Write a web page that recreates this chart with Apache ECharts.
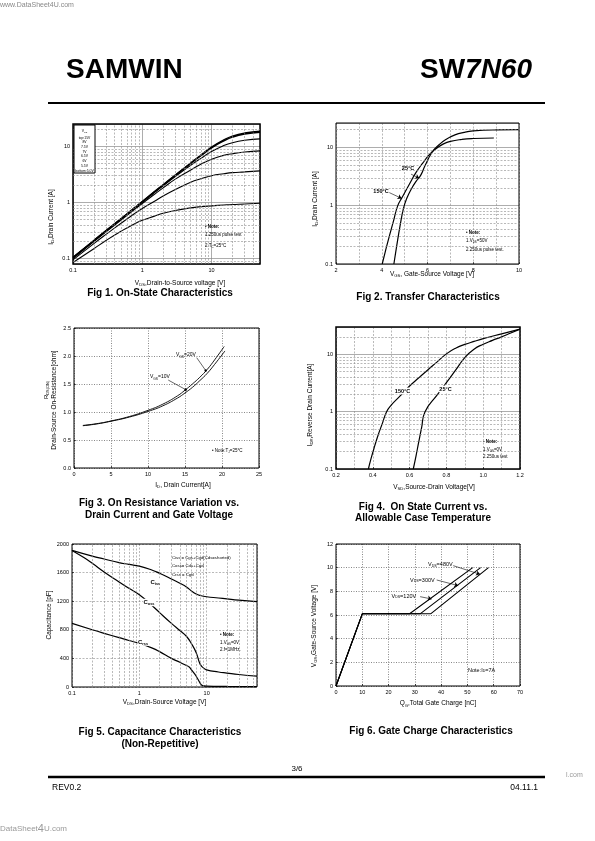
<!DOCTYPE html>
<html><head><meta charset="utf-8">
<script src="https://cdn.jsdelivr.net/npm/echarts@6/dist/echarts.min.js"></script>
<style>html,body{margin:0;padding:0;background:#fff}#c{width:595px;height:841px}</style>
</head><body><div id="c"></div>
<script>
// ---------------- DATA ----------------
// Fig 1: On-state characteristics, [VDS (V), ID (A)] per VGS curve
const fig1_15V = [[0.1,0.105],[0.2,0.21],[0.3,0.315],[0.5,0.52],[0.7,0.73],[1,1.04],[1.5,1.56],[2,2.07],[3,3.08],[5,5.05],[7,6.95],[10,9.7],[15,13.0],[20,15.2],[30,17.2],[50,18.5]];
const fig1_8V  = [[0.1,0.104],[0.2,0.208],[0.3,0.312],[0.5,0.515],[0.7,0.72],[1,1.03],[1.5,1.54],[2,2.04],[3,3.03],[5,4.95],[7,6.8],[10,9.4],[15,12.5],[20,14.6],[30,16.6],[50,17.9]];
const fig1_7V5 = [[0.1,0.103],[0.2,0.206],[0.3,0.31],[0.5,0.51],[0.7,0.71],[1,1.01],[1.5,1.5],[2,1.98],[3,2.9],[5,4.6],[7,6.1],[10,8.1],[15,10.3],[20,11.6],[30,12.8],[50,13.6]];
const fig1_7V  = [[0.1,0.1],[0.2,0.2],[0.3,0.3],[0.5,0.49],[0.7,0.68],[1,0.96],[1.5,1.4],[2,1.82],[3,2.6],[5,3.8],[7,4.8],[10,5.9],[15,6.9],[20,7.4],[30,7.9],[50,8.3]];
const fig1_6V5 = [[0.1,0.095],[0.2,0.185],[0.3,0.27],[0.5,0.43],[0.7,0.58],[1,0.78],[1.5,1.05],[2,1.3],[3,1.7],[5,2.3],[7,2.65],[10,3.0],[15,3.25],[20,3.4],[30,3.5],[50,3.65]];
const fig1_6V  = [[0.1,0.085],[0.2,0.15],[0.3,0.21],[0.5,0.31],[0.7,0.39],[1,0.48],[1.5,0.57],[2,0.64],[3,0.72],[5,0.8],[7,0.84],[10,0.87],[15,0.9],[20,0.92],[30,0.94],[50,0.97]];
const fig1Legend = ['V{GS}','top:15V','8V','7.5V','7V','6.5V','6V','5.5V','bottom:5.0V'];

// Fig 2: Transfer characteristics, [VGS (V), ID (A)]
const fig2_150C = [[4.02,0.1],[4.15,0.16],[4.3,0.27],[4.5,0.52],[4.7,1.0],[4.9,1.4],[5.2,2.3],[5.5,3.7],[5.8,5.4],[6.1,7.6],[6.4,9.6],[6.7,11.4],[7.0,12.6],[7.5,13.6],[8.0,14.1],[8.9,14.4]];
const fig2_25C  = [[4.53,0.1],[4.65,0.2],[4.8,0.45],[4.95,0.9],[5.1,1.35],[5.3,1.95],[5.5,2.6],[5.7,3.3],[5.9,4.9],[6.2,8.2],[6.5,11],[6.8,13.6],[7.2,16.3],[7.6,18],[8.0,19],[9,19.8],[10,20]];

// Fig 3: On-resistance vs drain current, [ID (A), RDS(on) (ohm)]
const fig3_10V = [[1.2,0.76],[3,0.79],[5,0.84],[7.5,0.92],[10,1.03],[12,1.14],[14,1.29],[15,1.39],[16,1.5],[17,1.62],[18,1.76],[19,1.93],[20.3,2.17]];
const fig3_20V = [[1.2,0.755],[3,0.785],[5,0.835],[7.5,0.91],[10,1.01],[12,1.11],[14,1.25],[15,1.34],[16,1.44],[17,1.56],[18,1.69],[19,1.85],[20.4,2.09]];

// Fig 4: Source-drain diode, [VSD (V), IDR (A)]
const fig4_150C = [[0.376,0.1],[0.39,0.15],[0.41,0.25],[0.43,0.4],[0.45,0.6],[0.475,1.0],[0.5,1.3],[0.55,1.9],[0.6,2.8],[0.65,3.9],[0.7,5.4],[0.75,7.4],[0.8,10.2],[0.85,12.8],[0.9,14.9],[0.95,16.8],[1.0,18.8],[1.1,22.8],[1.2,27.5]];
const fig4_25C  = [[0.62,0.1],[0.635,0.17],[0.65,0.3],[0.665,0.52],[0.684,1.0],[0.75,1.96],[0.8,3.2],[0.85,5.3],[0.9,8.8],[0.95,12.3],[1.0,15],[1.05,17.5],[1.1,20.2],[1.15,23.6],[1.2,27.5]];

// Fig 5: Capacitance, [VDS (V), C (pF)]
const fig5_Ciss = [[0.1,1910],[0.2,1830],[0.3,1790],[0.5,1740],[0.7,1715],[1,1690],[1.5,1640],[2,1590],[3,1510],[4,1450],[5,1400],[6,1340],[7,1300],[8,1280],[10,1262],[15,1245],[20,1232],[30,1215],[56,1195]];
const fig5_Coss = [[0.1,1910],[0.15,1810],[0.2,1730],[0.3,1610],[0.5,1470],[0.7,1380],[1,1290],[1.5,1150],[2,1040],[3,890],[4,790],[5,710],[6,600],[7,480],[8,320],[9,265],[10,240],[15,210],[20,195],[30,175],[56,152]];
const fig5_Crss = [[0.1,890],[0.2,800],[0.3,750],[0.5,690],[0.7,650],[1,610],[1.5,550],[2,495],[3,400],[4,345],[5,300],[5.5,280],[6,235],[7,150],[8,55],[8.7,20],[10,12],[20,8],[56,5]];

// Fig 6: Gate charge, [QG (nC), VGS (V)]
const fig6_120V = [[0,0],[10,6.1],[28,6.1],[52,10]];
const fig6_300V = [[0,0],[10,6.1],[32,6.1],[55,10]];
const fig6_480V = [[0,0],[10,6.1],[36,6.1],[58,10]];

// ---------------- HELPERS ----------------
const FONT = '"Liberation Sans", Arial, Helvetica, sans-serif';
function logFmt(v){const l=Math.log10(v);const r=Math.round(l);if(Math.abs(l-r)>1e-4)return '';return r<0?Math.pow(10,r).toFixed(-r):String(Math.pow(10,r));}
function logMinors(lo,hi){const out=[];for(let k=-2;k<=3;k++){for(let m=2;m<=9;m++){const v=+(m*Math.pow(10,k)).toPrecision(3);if(v>lo*1.001&&v<hi*0.999)out.push(v);}}return out;}
function richStr(str){return str.split(/(\{[^}]*\})/).filter(p=>p.length).map(p=>p[0]==='{'?'{s|'+p.slice(1,-1)+'}':'{n|'+p+'}').join('');}
function T(x,y,str,o){o=o||{};const size=o.size||5;const w=o.bold?'bold':'normal';const col=o.color||'#000';
  const st={text:richStr(str),align:o.align||'left',verticalAlign:'middle',fill:col,
    rich:{n:{fontSize:size,fontFamily:FONT,fontWeight:w,fill:col,lineHeight:size*1.25,verticalAlign:'middle'},
          s:{fontSize:size*0.65,fontFamily:FONT,fontWeight:w,fill:col,lineHeight:size*0.65,verticalAlign:'bottom'}}};
  if(o.bg){st.backgroundColor=o.bg;st.padding=[0,0.5];}
  return {type:'text',x:x,y:y,rotation:o.rot||0,z:100,silent:true,style:st};}
const lbl={fontSize:5.5,color:'#000',fontFamily:FONT,margin:3};
const solidGrid={show:true,lineStyle:{color:'#8a8a8a',width:0.7,type:'solid'}};
const dashGrid={show:true,lineStyle:{color:'#8a8a8a',width:0.6,type:[2,1.5]}};
const dotGrid={show:true,lineStyle:{color:'#555',width:0.7,type:[1,1.5]}};
const tickIn={show:true,inside:true,length:2,lineStyle:{color:'#000',width:0.6}};

function logAxis(gi,min,max,split){return {type:'log',logBase:10,gridIndex:gi,min:min,max:max,axisLine:{show:false},axisTick:{show:false},axisLabel:Object.assign({formatter:logFmt},lbl),splitLine:split||solidGrid};}
function linAxis(gi,min,max,interval,fmt,split,minor){const a={type:'value',gridIndex:gi,min:min,max:max,interval:interval,axisLine:{show:false},axisTick:tickIn,axisLabel:Object.assign({formatter:fmt},lbl),splitLine:split};
  if(minor){a.minorTick={show:false,splitNumber:minor};a.minorSplitLine=dashGrid;}return a;}
function minorSeries(gi,xs,ys){return {type:'line',xAxisIndex:gi,yAxisIndex:gi,data:[],silent:true,z:1,
  markLine:{silent:true,symbol:['none','none'],animation:false,label:{show:false},lineStyle:{color:'#8a8a8a',width:0.6,type:[2,1.5]},
  data:xs.map(v=>({xAxis:v})).concat(ys.map(v=>({yAxis:v})))}};}
function curve(gi,data,w,smooth){return {type:'line',xAxisIndex:gi,yAxisIndex:gi,data:data,showSymbol:false,smooth:smooth===false?false:0.5,lineStyle:{color:'#000',width:w||1.1},silent:true,z:2};}
function arrows(gi,list,sym,size){return {type:'line',xAxisIndex:gi,yAxisIndex:gi,data:[],silent:true,z:4,
  markLine:{silent:true,symbol:['none',sym||'arrow'],symbolSize:size||4,animation:false,label:{show:false},lineStyle:{color:'#000',width:0.6,type:'solid'},
  data:list.map(a=>[{coord:a[0]},{coord:a[1]}])}};}

// ---------------- LAYOUT ----------------
const gridBox=[
  {left:73,top:124,width:187,height:140,borderWidth:1.5},
  {left:336,top:123,width:183,height:141,borderWidth:1},
  {left:74,top:328,width:185,height:140,borderWidth:1},
  {left:336,top:327,width:184,height:142,borderWidth:1.5},
  {left:72,top:544,width:185,height:143,borderWidth:1},
  {left:336,top:544,width:184,height:142,borderWidth:1}
].map(g=>Object.assign({show:true,z:3,borderColor:'#000',backgroundColor:'transparent'},g));

const xAxes=[
  logAxis(0,0.1,50),
  linAxis(1,2,10,2,v=>String(v),dashGrid,2),
  linAxis(2,0,25,5,v=>String(v),dotGrid),
  linAxis(3,0.2,1.2,0.2,v=>v.toFixed(1),dashGrid,2),
  logAxis(4,0.1,56,dashGrid),
  linAxis(5,0,70,10,v=>String(v),dotGrid)
];
const yAxes=[
  logAxis(0,0.08,25),
  logAxis(1,0.1,26),
  linAxis(2,0,2.5,0.5,v=>v.toFixed(1),dotGrid),
  logAxis(3,0.1,30),
  linAxis(4,0,2000,400,v=>String(v),dashGrid),
  linAxis(5,0,12,2,v=>String(v),dotGrid)
];

const series=[
  minorSeries(0,logMinors(0.1,50),logMinors(0.08,25)),
  curve(0,fig1_15V,1.5),curve(0,fig1_8V,1.5),curve(0,fig1_7V5,1.1),curve(0,fig1_7V,1.1),curve(0,fig1_6V5,1.1),curve(0,fig1_6V,1.1),
  minorSeries(1,[],logMinors(0.1,26)),
  curve(1,fig2_150C,1.2),curve(1,fig2_25C,1.2),
  arrows(1,[[[5.28,3.46],[5.64,2.95]],[[4.33,1.67],[4.87,1.33]]]),
  curve(2,fig3_10V,0.9),curve(2,fig3_20V,0.9),
  arrows(2,[[[16.58,1.97],[17.8,1.74]],[[12.74,1.57],[15.09,1.40]]],'circle',2.5),
  minorSeries(3,[],logMinors(0.1,30)),
  curve(3,fig4_150C,1.2),curve(3,fig4_25C,1.2),
  minorSeries(4,logMinors(0.1,56),[]),
  curve(4,fig5_Ciss,1.2),curve(4,fig5_Coss,1.2),curve(4,fig5_Crss,1.2),
  curve(5,fig6_120V,1.1,false),curve(5,fig6_300V,1.1,false),curve(5,fig6_480V,1.1,false),
  arrows(5,[[[44.6,10.17],[54.8,9.44]],[[38.3,8.96],[46.5,8.48]],[[32,7.55],[36.4,7.35]]])
];

// ---------------- TEXT / PAGE DECORATION ----------------
const G=[];
// header
G.push({type:'text',x:0,y:5,z:100,style:{text:'www.DataSheet4U.com',fontSize:7,fontFamily:FONT,fill:'#888',verticalAlign:'middle'}});
G.push({type:'text',x:66,y:70,z:100,style:{text:'SAMWIN',fontSize:28,fontWeight:'bold',fontFamily:FONT,fill:'#000',verticalAlign:'middle'}});
G.push({type:'text',x:532,y:70,z:100,style:{text:'{a|SW}{b|7N60}',align:'right',verticalAlign:'middle',rich:{a:{fontSize:28,fontWeight:'bold',fontFamily:FONT,fill:'#000'},b:{fontSize:28,fontWeight:'bold',fontStyle:'italic',fontFamily:FONT,fill:'#000'}}}});
G.push({type:'line',z:100,shape:{x1:48,y1:103,x2:545,y2:103},style:{stroke:'#000',lineWidth:2}});
// footer
G.push({type:'line',z:100,shape:{x1:48,y1:777,x2:545,y2:777},style:{stroke:'#000',lineWidth:2.5}});
G.push(T(297,769,'3/6',{size:8,align:'center'}));
G.push(T(52,788,'REV0.2',{size:8.5}));
G.push(T(538,788,'04.11.1',{size:8.5,align:'right'}));
G.push(T(566,775,'l.com',{size:7,color:'#999'}));
G.push({type:'text',x:0,y:829,z:100,style:{text:'{a|DataSheet}{b|4}{a|U.com}',verticalAlign:'middle',rich:{a:{fontSize:8,fontFamily:FONT,fill:'#999'},b:{fontSize:11,fontFamily:FONT,fill:'#999'}}}});

// Fig 1
G.push({type:'rect',z:90,shape:{x:74,y:125,width:21,height:48},style:{fill:'#fff',stroke:'#000',lineWidth:1}});
fig1Legend.forEach((t,i)=>G.push(T(84.5,131+i*4.7+(i>0?2:0),t,{size:3.4,align:'center'})));
G.push(T(205,227,'• Note:',{size:4.5,bold:true}));
G.push(T(205,235,'1.250us pulse test',{size:4.5}));
G.push(T(205,246,'2.T{C}=25°C',{size:4.5}));
G.push(T(180,283,'V{DS},Drain-to-Source voltage [V]',{size:6.5,align:'center'}));
G.push(T(51,217,'I{D},Drain Current [A]',{size:6.5,align:'center',rot:Math.PI/2}));
G.push(T(160,293,'Fig 1. On-State Characteristics',{size:10,bold:true,align:'center'}));
// Fig 2
G.push(T(408,168,'25°C',{size:5.5,bold:true,align:'center'}));
G.push(T(381,191,'150°C',{size:5.5,bold:true,align:'center'}));
G.push(T(466,233,'• Note:',{size:4.5,bold:true}));
G.push(T(466,241,'1.V{DS}=50V',{size:4.5}));
G.push(T(466,250,'2.250us pulse test.',{size:4.5}));
G.push(T(432,274,'V{GS}, Gate-Source Voltage [V]',{size:6.5,align:'center'}));
G.push(T(315,199,'I{D},Drain Current [A]',{size:6.5,align:'center',rot:Math.PI/2}));
G.push(T(428,297,'Fig 2. Transfer Characteristics',{size:10,bold:true,align:'center'}));
// Fig 3
G.push(T(176,355,'V{GS}=20V',{size:5}));
G.push(T(150,377,'V{GS}=10V',{size:5}));
G.push(T(212,451,'• Note:T{J}=25°C',{size:4.5}));
G.push(T(183,485,'I{D}, Drain Current[A]',{size:6.5,align:'center'}));
G.push(T(46.5,390,'R{DS(ON)}',{size:6,align:'center',rot:Math.PI/2}));
G.push(T(54,400,'Drain-Source On-Resistance[ohm]',{size:6.5,align:'center',rot:Math.PI/2}));
G.push(T(159,503,'Fig 3. On Resistance Variation vs.',{size:10,bold:true,align:'center'}));
G.push(T(159,515,'Drain Current and Gate Voltage',{size:10,bold:true,align:'center'}));
// Fig 4
G.push(T(402.5,391,'150°C',{size:5.5,bold:true,align:'center',bg:'#fff'}));
G.push(T(445.5,389,'25°C',{size:5.5,bold:true,align:'center',bg:'#fff'}));
G.push(T(483,442,'- Note:',{size:4.5,bold:true}));
G.push(T(483,450,'1.V{GS}=0V',{size:4.5}));
G.push(T(483,457,'2.250us test',{size:4.5}));
G.push(T(434,487,'V{SD},Source-Drain Voltage[V]',{size:6.5,align:'center'}));
G.push(T(310,405,'I{DR},Reverse Drain Current[A]',{size:6.5,align:'center',rot:Math.PI/2}));
G.push(T(423,507,'Fig 4.  On State Current vs.',{size:10,bold:true,align:'center'}));
G.push(T(423,518,'Allowable Case Temperature',{size:10,bold:true,align:'center'}));
// Fig 5
G.push(T(172,558,'Ciss = Cgs+Cgd(Cds=shorted)',{size:4.3}));
G.push(T(172,566,'Coss= Cds+Cgd',{size:4.3}));
G.push(T(172,574.5,'Crss = Cgd',{size:4.3}));
G.push(T(150,582,'C{iss}',{size:6,bold:true,bg:'#fff'}));
G.push(T(143,602.5,'C{oss}',{size:6,bold:true,bg:'#fff'}));
G.push(T(137.5,642,'C{rss}',{size:6,bold:true,bg:'#fff'}));
G.push(T(220,634.5,'• Note:',{size:4.5,bold:true}));
G.push(T(220,642.5,'1.V{GS}=0V',{size:4.5}));
G.push(T(220,650,'2.f=1MHz.',{size:4.5}));
G.push(T(164.5,702,'V{DS},Drain-Source Voltage [V]',{size:6.5,align:'center'}));
G.push(T(49.5,615,'Capacitance [pF]',{size:6.5,align:'center',rot:Math.PI/2}));
G.push(T(160,732,'Fig 5. Capacitance Characteristics',{size:10,bold:true,align:'center'}));
G.push(T(160,744,'(Non-Repetitive)',{size:10,bold:true,align:'center'}));
// Fig 6
G.push(T(428,564.5,'V{DS}=480V',{size:5.5}));
G.push(T(410,580,'V{DS}=300V',{size:5.5}));
G.push(T(391.5,596,'V{DS}=120V',{size:5.5}));
G.push(T(468,670,'Note:I{D}=7A',{size:5.5}));
G.push(T(438,703.5,'Q{G},Total Gate Charge [nC]',{size:6.5,align:'center'}));
G.push(T(314,626,'V{GS},Gate-Source Voltage [V]',{size:6.5,align:'center',rot:Math.PI/2}));
G.push(T(431,731,'Fig 6. Gate Charge Characteristics',{size:10,bold:true,align:'center'}));

const chart=echarts.init(document.getElementById('c'),null,{renderer:'canvas',width:595,height:841});
chart.setOption({
  animation:false,
  backgroundColor:'#fff',
  textStyle:{fontFamily:FONT},
  grid:gridBox,
  xAxis:xAxes,
  yAxis:yAxes,
  series:series,
  graphic:{elements:G}
});
</script></body></html>
